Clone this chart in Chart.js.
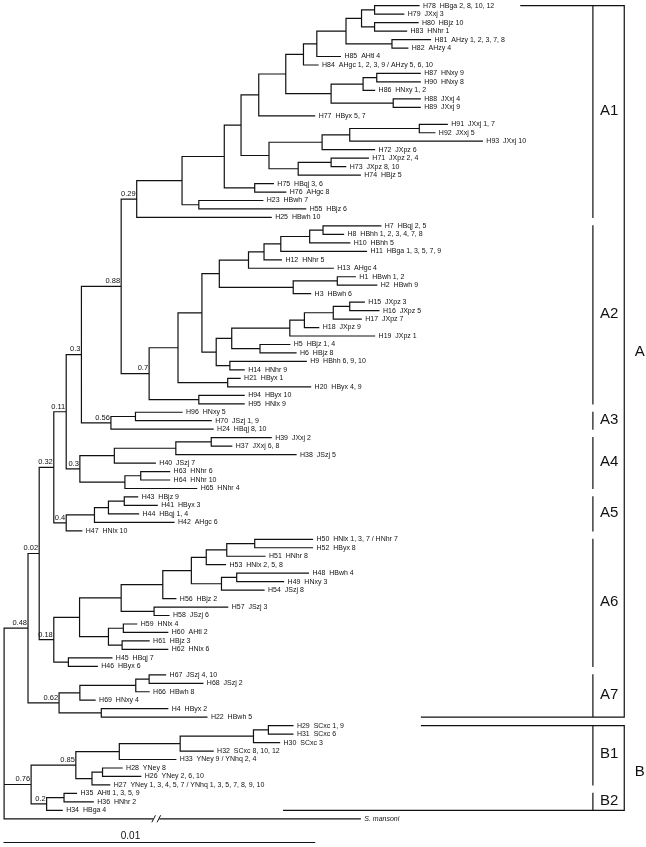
<!DOCTYPE html>
<html lang="en">
<head>
<meta charset="utf-8">
<title>Haplotype tree</title>
<script src="https://cdn.jsdelivr.net/npm/chart.js"></script>
<style>
  body { margin: 0; background: #fff; }
  #wrap { position: relative; width: 646px; height: 847px; }
</style>
</head>
<body>
<div id="wrap"><canvas id="tree"></canvas></div>
<script>
// tips, top to bottom
const tipIds = ['H78','H79','H80','H83','H81','H82','H85','H84','H87','H90','H86','H88','H89','H77',
  'H91','H92','H93','H72','H71','H73','H74','H75','H76','H23','H55','H25',
  'H7','H8','H10','H11','H12','H13','H1','H2','H3','H15','H16','H17','H18','H19','H5','H6','H9','H14','H21','H20','H94','H95',
  'H96','H70','H24','H39','H37','H38','H40','H63','H64','H65','H43','H41','H44','H42','H47',
  'H50','H52','H51','H53','H48','H49','H54','H56','H57','H58','H59','H60','H61','H62','H45','H46',
  'H67','H68','H66','H69','H4','H22','H29','H31','H30','H32','H33','H28','H26','H27','H35','H36','H34','S. mansoni'];
const tipNotes = ['HBga 2, 8, 10, 12','JXxj 3','HBjz 10','HNhr 1','AHzy 1, 2, 3, 7, 8','AHzy 4','AHtl 4',
  'AHgc 1, 2, 3, 9 / AHzy 5, 6, 10','HNxy 9','HNxy 8','HNxy 1, 2','JXxj 4','JXxj 9','HByx 5, 7',
  'JXxj 1, 7','JXxj 5','JXxj 10','JXpz 6','JXpz 2, 4','JXpz 8, 10','HBjz 5','HBqj 3, 6','AHgc 8','HBwh 7','HBjz 6','HBwh 10',
  'HBqj 2, 5','HBhh 1, 2, 3, 4, 7, 8','HBhh 5','HBga 1, 3, 5, 7, 9','HNhr 5','AHgc 4','HBwh 1, 2','HBwh 9','HBwh 6',
  'JXpz 3','JXpz 5','JXpz 7','JXpz 9','JXpz 1','HBjz 1, 4','HBjz 8','HBhh 6, 9, 10','HNhr 9','HByx 1','HByx 4, 9','HByx 10','HNlx 9',
  'HNxy 5','JSzj 1, 9','HBqj 8, 10','JXxj 2','JXxj 6, 8','JSzj 5','JSzj 7','HNhr 6','HNhr 10','HNhr 4',
  'HBjz 9','HByx 3','HBqj 1, 4','AHgc 6','HNlx 10',
  'HNlx 1, 3, 7 / HNhr 7','HByx 8','HNhr 8','HNlx 2, 5, 8','HBwh 4','HNxy 3','JSzj 8','HBjz 2','JSzj 3','JSzj 6',
  'HNlx 4','AHtl 2','HBjz 3','HNlx 6','HBqj 7','HByx 6',
  'JSzj 4, 10','JSzj 2','HBwh 8','HNxy 4','HByx 2','HBwh 5',
  'SCxc 1, 9','SCxc 6','SCxc 3','SCxc 8, 10, 12','YNey 9 / YNhq 2, 4','YNey 8','YNey 2, 6, 10',
  'YNey 1, 3, 4, 5, 7 / YNhq 1, 3, 5, 7, 8, 9, 10','AHtl 1, 3, 5, 9','HNhr 2','HBga 4',''];
// distance from root to each tip, units of 0.0001
const tipDepth = [133.6,128.7,133.3,129.6,137.3,130,108.3,101.1,134,134,119.3,134,134,100,
  142.7,138.7,154,119.3,117.3,110,114.7,86.7,90.7,83.3,97.1,86,
  121.3,109.3,111.3,116.7,89.3,106,113.1,120,98.7,116,120.7,115,101.3,119.3,92,94,97.3,77.3,76,98.7,77.3,77.3,
  57.3,66.7,67.3,86,73.3,94,48.7,53.3,53.3,62,43,49.3,43.3,54.7,25,
  99.3,99.3,84,71.3,98,90,83.7,55.3,72,53.1,42.7,52.7,46.7,52.7,34.7,30,
  52,64,46.7,29.3,52.7,65.3,93,93,88.7,67.3,55.3,38,44,34,23.3,28.7,18.7,114.7];

// internal nodes n0..n94 (children are tip ids or earlier nodes)
const nodeKids = [
  ['H78','H79'],['H80','H83'],['n0','n1'],['H81','H82'],['n2','n3'],['n4','H85'],['n5','H84'],
  ['H87','H90'],['n7','H86'],['H88','H89'],['n8','n9'],['n6','n10'],['n11','H77'],
  ['H91','H92'],['n13','H93'],['n14','H72'],['H71','H73'],['n16','H74'],['n15','n17'],['n12','n18'],
  ['H75','H76'],['n19','n20'],['H23','H55'],['n21','n22'],['n23','H25'],
  ['H7','H8'],['n25','H10'],['n26','H11'],['n27','H12'],['n28','H13'],['H1','H2'],['n30','H3'],['n29','n31'],
  ['H15','H16'],['n33','H17'],['n34','H18'],['n35','H19'],['H5','H6'],['n36','n37'],['H9','H14'],['n38','n39'],
  ['n32','n40'],['H21','H20'],['n41','n42'],['H94','H95'],['n43','n44'],['n24','n45'],
  ['H96','H70'],['n47','H24'],['n46','n48'],
  ['H39','H37'],['n50','H38'],['n51','H40'],['H63','H64'],['n53','H65'],['n52','n54'],['n49','n55'],
  ['H43','H41'],['n57','H44'],['n58','H42'],['n59','H47'],['n56','n60'],
  ['H50','H52'],['n62','H51'],['n63','H53'],['H48','H49'],['n65','H54'],['n64','n66'],['n67','H56'],
  ['H57','H58'],['n68','n69'],['H59','H60'],['H61','H62'],['n71','n72'],['n70','n73'],['H45','H46'],
  ['n74','n75'],['n61','n76'],
  ['H67','H68'],['n78','H66'],['n79','H69'],['H4','H22'],['n80','n81'],['n77','n82'],
  ['H29','H31'],['n84','H30'],['n85','H32'],['n86','H33'],['H28','H26'],['n88','H27'],['n87','n89'],
  ['H35','H36'],['n91','H34'],['n90','n92'],
  ['n83','n93','S. mansoni']
];
const nodeDepth = [119.3,119.3,115.1,124.9,110.1,100.7,96.4,
  120,115.6,125.3,105.3,90.7,82,
  133.7,111.3,102.4,105.3,94.7,85.3,76.3,
  80.7,70.9,62.7,57.3,42.7,
  102.7,98.4,89.1,83.7,78.7,107.3,93.1,69.3,
  111.3,106,96.7,92,82.4,73.3,72.7,68.3,
  63.7,72,56,62.7,46.7,37.7,
  42.3,34.4,24.9,
  66.7,55.3,35.5,44,38.9,24.4,20,
  38.7,33.6,29.1,20,16,
  80.7,71.7,65.1,74.9,70,60.3,51.1,
  48.3,37.7,38.4,38,33.6,24.3,20.7,
  16,11.3,
  46.7,42.4,24.4,31.3,17.7,7.7,
  85.1,80.3,56.7,37.1,31.7,28.3,23.1,
  19.3,13.7,8.7,
  0];

const supportNodes = ['n24','n45','n46','n48','n49','n55','n56','n60','n61','n76','n77','n82','n83','n90','n92','n93'];
const supportValues = ['0.29','0.7','0.88','0.56','0.3','0.3','0.11','0.4','0.32','0.18','0.02','0.62','0.48','0.85','0.2','0.76'];

const cladeNames = ['A1','A2','A3','A4','A5','A6','A7','B1','B2'];
const cladeFirst = ['H78','H7','H96','H39','H43','H50','H67','H29','H35'];
const cladeLast = ['H25','H95','H24','H65','H47','H46','H22','H27','H34'];
const groupNames = ['A','B'];
const groupFirst = ['H78','H29'];
const groupLast = ['H22','H34'];
const groupTopArm = [166.4, 134.4];
const groupBottomArm = [134.4, 90];

const scaleBarLength = 100;   // 0.01
const outgroupBreak = 49;     // "//" on the S. mansoni branch

// layout (depth units / row units)
const barDepth = 189.6, outerDepth = 199.7, cladeLabelDepth = 191.9, groupLabelDepth = 203.1;
const groupLabelRow = [40.9, 90.5];
const scaleRow = 98.8;

const tipRow = {};
tipIds.forEach((id, i) => tipRow[id] = i);
const nodeRow = [];
function rowOf(k) { return k in tipRow ? tipRow[k] : nodeRow[+k.slice(1)]; }
function depthOf(k) { return k in tipRow ? tipDepth[tipRow[k]] : nodeDepth[+k.slice(1)]; }
nodeKids.forEach((kids, i) => {
  const rows = kids.map(rowOf);
  nodeRow[i] = (rows[0] + rows[rows.length - 1]) / 2;
});

const edges = [];
function seg(list, x1, y1, x2, y2) { list.push({x: x1, y: y1}, {x: x2, y: y2}, {x: NaN, y: null}); }
nodeKids.forEach((kids, i) => {
  const x = nodeDepth[i], rows = kids.map(rowOf);
  seg(edges, x, rows[0], x, rows[rows.length - 1]);
  kids.forEach(k => seg(edges, x, rowOf(k), depthOf(k), rowOf(k)));
});
seg(edges, 0, scaleRow, scaleBarLength, scaleRow);

const brackets = [];
cladeNames.forEach((c, i) => seg(brackets, barDepth, tipRow[cladeFirst[i]], barDepth, tipRow[cladeLast[i]]));
groupNames.forEach((g, i) => {
  const a = tipRow[groupFirst[i]], b = tipRow[groupLast[i]];
  seg(brackets, outerDepth, a, outerDepth, b);
  seg(brackets, groupTopArm[i], a, outerDepth, a);
  seg(brackets, groupBottomArm[i], b, outerDepth, b);
});

const textPlugin = {
  id: 'treeText',
  afterDatasetsDraw(chart) {
    const ctx = chart.ctx, sx = chart.scales.x, sy = chart.scales.y;
    const X = v => sx.getPixelForValue(v), Y = v => sy.getPixelForValue(v);
    ctx.save();
    ctx.fillStyle = '#111';
    // tip labels
    ctx.textAlign = 'left';
    ctx.textBaseline = 'middle';
    tipIds.forEach((id, i) => {
      if (id === 'S. mansoni') {
        ctx.font = 'italic 7px "Liberation Sans", Arial, sans-serif';
        ctx.fillText(id, X(tipDepth[i]) + 4, Y(i));
      } else {
        ctx.font = '7px "Liberation Sans", Arial, sans-serif';
        ctx.fillText(id + '  ' + tipNotes[i], X(tipDepth[i]) + 4, Y(i));
      }
    });
    // support values
    ctx.font = '7.5px "Liberation Sans", Arial, sans-serif';
    ctx.textAlign = 'right';
    ctx.textBaseline = 'bottom';
    supportNodes.forEach((n, i) => {
      const k = +n.slice(1);
      ctx.fillText(supportValues[i], X(nodeDepth[k]) - 1, Y(nodeRow[k]) - 1.5);
    });
    // clade labels
    ctx.textAlign = 'left';
    ctx.textBaseline = 'middle';
    ctx.font = '15px "Liberation Sans", Arial, sans-serif';
    cladeNames.forEach((c, i) => {
      ctx.fillText(c, X(cladeLabelDepth), Y((tipRow[cladeFirst[i]] + tipRow[cladeLast[i]]) / 2) - 1);
    });
    groupNames.forEach((g, i) => {
      ctx.fillText(g, X(groupLabelDepth), Y(groupLabelRow[i]));
    });
    // scale label
    ctx.font = '10px "Liberation Sans", Arial, sans-serif';
    ctx.textAlign = 'center';
    ctx.textBaseline = 'bottom';
    ctx.fillText('0.01', X(40.7), Y(scaleRow) - 1.5);
    // break on outgroup branch
    const bx = X(outgroupBreak), by = Y(tipRow['S. mansoni']);
    ctx.fillStyle = '#fff';
    ctx.fillRect(bx - 3, by - 2, 6, 4);
    ctx.strokeStyle = '#111';
    ctx.lineWidth = 1;
    [-2.6, 2.6].forEach(o => {
      ctx.beginPath();
      ctx.moveTo(bx + o - 1.8, by + 3.5);
      ctx.lineTo(bx + o + 1.8, by - 3.5);
      ctx.stroke();
    });
    ctx.restore();
  }
};

new Chart(document.getElementById('tree'), {
  type: 'scatter',
  data: {
    datasets: [
      { data: edges, showLine: true, borderColor: '#111', borderWidth: 1.2, pointRadius: 0, borderCapStyle: 'square', spanGaps: false },
      { data: brackets, showLine: true, borderColor: '#111', borderWidth: 1.2, pointRadius: 0, borderCapStyle: 'square', spanGaps: false }
    ]
  },
  options: {
    responsive: true,
    maintainAspectRatio: false,
    animation: false,
    events: [],
    layout: { padding: 0 },
    plugins: { legend: { display: false }, tooltip: { enabled: false } },
    scales: {
      x: { type: 'linear', display: false, min: -1.32, max: 206.7 },
      y: { type: 'linear', display: false, reverse: true, min: -0.673, max: 99.33 }
    }
  },
  plugins: [textPlugin]
});
</script>
</body>
</html>
